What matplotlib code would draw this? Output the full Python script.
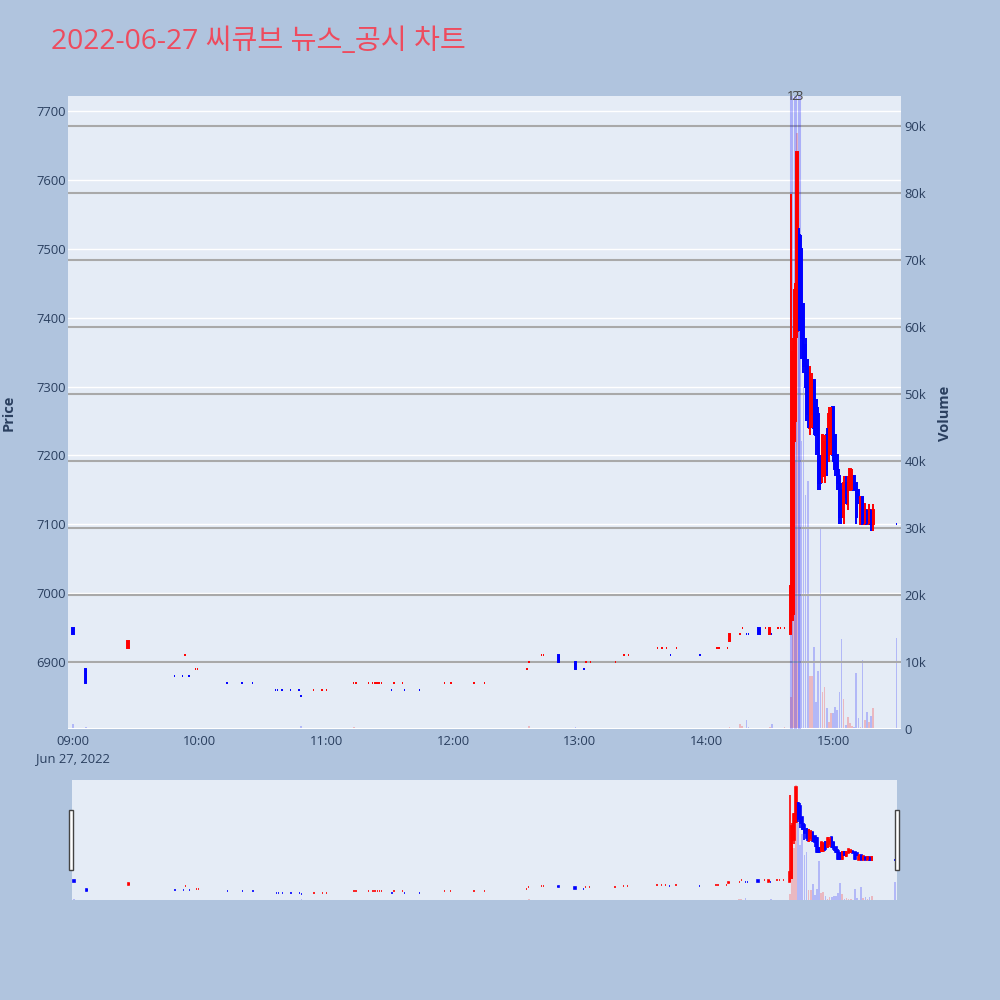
import numpy as np
import matplotlib
matplotlib.use('Agg')
import matplotlib.pyplot as plt
from matplotlib.patches import Rectangle

# 1-minute candles (HH:MM, open, high, low, close, volume)
times = ['09:00', '09:06', '09:26', '09:48', '09:52', '09:53', '09:55', '09:58', '09:59',
         '10:13', '10:20', '10:25', '10:36', '10:37', '10:39', '10:43', '10:47', '10:48',
         '10:54', '10:58', '11:00', '11:13', '11:14', '11:20', '11:22', '11:23', '11:24',
         '11:25', '11:26', '11:31', '11:32', '11:36', '11:37', '11:44', '11:56', '11:59',
         '12:10', '12:15', '12:35', '12:36', '12:42', '12:43', '12:50', '12:58', '13:02',
         '13:03', '13:05', '13:17', '13:21', '13:23', '13:37', '13:39', '13:41', '13:43',
         '13:46', '13:57', '14:05', '14:06', '14:10', '14:11', '14:16', '14:17', '14:19',
         '14:20', '14:25', '14:28', '14:30', '14:31', '14:34', '14:35', '14:37',
         '14:40', '14:41', '14:42', '14:43', '14:44', '14:45', '14:46', '14:47', '14:48',
         '14:49', '14:50', '14:51', '14:52', '14:53', '14:54', '14:55', '14:56', '14:57',
         '14:58', '14:59', '15:00', '15:01', '15:02', '15:03', '15:04', '15:05', '15:06',
         '15:07', '15:08', '15:09', '15:10', '15:11', '15:12', '15:13', '15:14', '15:15',
         '15:16', '15:17', '15:18', '15:19', '15:30']
opens = [6950, 6890, 6920, 6880, 6880, 6910, 6880, 6890, 6890,
         6870, 6870, 6870, 6860, 6860, 6860, 6860, 6860, 6850,
         6860, 6860, 6860, 6870, 6870, 6870, 6870, 6870, 6870,
         6870, 6870, 6860, 6870, 6870, 6860, 6860, 6870, 6870,
         6870, 6870, 6890, 6900, 6910, 6910, 6910, 6900, 6890,
         6900, 6900, 6900, 6910, 6910, 6920, 6920, 6920, 6910,
         6920, 6910, 6920, 6920, 6920, 6930, 6940, 6950, 6940,
         6940, 6950, 6950, 6940, 6940, 6950, 6950, 6950,
         6940, 6970, 7250, 7380, 7520, 7500, 7420, 7360, 7330,
         7240, 7260, 7310, 7280, 7260, 7190, 7170, 7170, 7230,
         7200, 7220, 7270, 7230, 7200, 7170, 7150, 7110, 7160,
         7130, 7150, 7160, 7170, 7160, 7150, 7100, 7140, 7100,
         7120, 7100, 7120, 7100, 7100]
highs = [6950, 6890, 6930, 6880, 6880, 6910, 6880, 6890, 6890,
         6870, 6870, 6870, 6860, 6860, 6860, 6860, 6860, 6850,
         6860, 6860, 6860, 6870, 6870, 6870, 6870, 6870, 6870,
         6870, 6870, 6860, 6870, 6870, 6860, 6860, 6870, 6870,
         6870, 6870, 6890, 6900, 6910, 6910, 6910, 6900, 6890,
         6900, 6900, 6900, 6910, 6910, 6920, 6920, 6920, 6910,
         6920, 6910, 6920, 6920, 6920, 6940, 6940, 6950, 6940,
         6940, 6950, 6950, 6950, 6940, 6950, 6950, 6950,
         7580, 7370, 7450, 7640, 7530, 7520, 7420, 7370, 7340,
         7330, 7320, 7310, 7280, 7270, 7200, 7230, 7230, 7240,
         7270, 7270, 7270, 7230, 7200, 7180, 7160, 7170, 7170,
         7170, 7180, 7180, 7170, 7160, 7150, 7140, 7140, 7130,
         7120, 7130, 7120, 7130, 7100]
lows = [6940, 6870, 6920, 6880, 6880, 6910, 6880, 6890, 6890,
        6870, 6870, 6870, 6860, 6860, 6860, 6860, 6860, 6850,
        6860, 6860, 6860, 6870, 6870, 6870, 6870, 6870, 6870,
        6870, 6870, 6860, 6870, 6870, 6860, 6860, 6870, 6870,
        6870, 6870, 6890, 6900, 6910, 6910, 6900, 6890, 6890,
        6900, 6900, 6900, 6910, 6910, 6920, 6920, 6920, 6910,
        6920, 6910, 6920, 6920, 6920, 6930, 6940, 6950, 6940,
        6940, 6940, 6950, 6940, 6940, 6950, 6950, 6950,
        6940, 6960, 7220, 7370, 7380, 7340, 7320, 7250, 7240,
        7230, 7240, 7230, 7200, 7150, 7150, 7160, 7160, 7170,
        7190, 7200, 7190, 7170, 7150, 7100, 7100, 7100, 7130,
        7120, 7150, 7150, 7150, 7100, 7130, 7100, 7100, 7100,
        7100, 7100, 7090, 7090, 7100]
closes = [6940, 6870, 6930, 6880, 6880, 6910, 6880, 6890, 6890,
          6870, 6870, 6870, 6860, 6860, 6860, 6860, 6860, 6850,
          6860, 6860, 6860, 6870, 6870, 6870, 6870, 6870, 6870,
          6870, 6870, 6860, 6870, 6870, 6860, 6860, 6870, 6870,
          6870, 6870, 6890, 6900, 6910, 6910, 6900, 6890, 6890,
          6900, 6900, 6900, 6910, 6910, 6920, 6920, 6920, 6910,
          6920, 6910, 6920, 6920, 6920, 6940, 6940, 6950, 6940,
          6940, 6940, 6950, 6950, 6940, 6950, 6950, 6950,
          7010, 7350, 7440, 7640, 7400, 7370, 7330, 7300, 7260,
          7320, 7310, 7240, 7230, 7160, 7160, 7230, 7220, 7180,
          7260, 7250, 7200, 7180, 7160, 7110, 7110, 7160, 7140,
          7160, 7180, 7170, 7150, 7110, 7140, 7140, 7100, 7130,
          7100, 7120, 7100, 7120, 7100]
volumes = [700, 300, 100, 150, 100, 150, 120, 100, 100,
           150, 100, 200, 150, 100, 150, 100, 200, 500,
           100, 100, 150, 300, 100, 150, 100, 150, 100,
           100, 150, 100, 150, 100, 100, 150, 100, 150,
           100, 100, 200, 400, 150, 100, 150, 300, 100,
           150, 100, 100, 150, 100, 150, 100, 150, 100,
           100, 150, 100, 150, 100, 300, 700, 500, 1300,
           300, 200, 150, 300, 700, 150, 200, 300,
           4800, 43000, 40000, 89000, 60000, 43000, 51000, 35000, 37000,
           7900, 7900, 12200, 4000, 8700, 30000, 5500, 6300, 3100,
           1000, 2400, 2400, 3300, 2900, 5500, 13400, 4500, 600,
           1800, 900, 500, 300, 8400, 1600, 300, 10300, 1400,
           2500, 1000, 2000, 3100, 13600]

news_times = ['14:40', '14:42', '14:44']
news_labels = ['1', '2', '3']

price_ticks = [6900, 7000, 7100, 7200, 7300, 7400, 7500, 7600, 7700]
volume_ticks = [0, 10000, 20000, 30000, 40000, 50000, 60000, 70000, 80000, 90000]
volume_tick_labels = ['0', '10k', '20k', '30k', '40k', '50k', '60k', '70k', '80k', '90k']
time_tick_labels = ['09:00', '10:00', '11:00', '12:00', '13:00', '14:00', '15:00']

title = '2022-06-27 씨큐브 뉴스_공시 차트'

RED = '#ff0000'
BLUE = '#0000ff'
PLOT_BG = '#e5ecf6'
FIG_BG = '#b0c4de'
TXT = '#2a3f5f'

plt.rcParams['font.family'] = ['Open Sans', 'Noto Sans CJK KR', 'DejaVu Sans']


def to_min(t):
    h, m = t.split(':')
    return (int(h) - 9) * 60 + int(m)


x = np.array([to_min(t) for t in times], dtype=float)
o = np.array(opens, dtype=float)
c = np.array(closes, dtype=float)
h = np.array(highs, dtype=float)
l = np.array(lows, dtype=float)
v = np.array(volumes, dtype=float)

# direction like plotly: flat candles follow previous close / previous direction
up = []
inc = True
prev_c = None
for oi, ci in zip(o, c):
    if ci != oi:
        inc = ci > oi
    elif prev_c is not None and ci != prev_c:
        inc = ci > prev_c
    up.append(inc)
    prev_c = ci
up = np.array(up)
cols = np.where(up, RED, BLUE)
vcols = [(1, 0, 0, 0.22) if u else (0, 0, 1, 0.22) for u in up]


def draw_candles(ax, lw, bw):
    ax.vlines(x, l, h, colors=cols, linewidth=lw)
    ax.bar(x, np.abs(c - o), bottom=np.minimum(o, c), width=bw,
           color=cols, edgecolor=cols, linewidth=lw)


def strip(ax):
    for s in ax.spines.values():
        s.set_visible(False)


fig = plt.figure(figsize=(10, 10), dpi=100, facecolor=FIG_BG)

# main chart
ax = fig.add_axes([0.068, 0.271, 0.833, 0.633])
ax.set_facecolor(PLOT_BG)
ax.set_zorder(1)
ax.set_xlim(-2.37, 392.2)
ax.set_ylim(6802.7, 7721.8)
ax.set_yticks(price_ticks)
ax.set_yticklabels([str(p) for p in price_ticks])
ax.set_xticks([i * 60 for i in range(len(time_tick_labels))])
ax.set_xticklabels([time_tick_labels[0] + '\nJun 27, 2022'] + time_tick_labels[1:],
                   linespacing=1.35)
ax.grid(axis='y', color='white', linewidth=1.0)
ax.tick_params(axis='y', length=0, labelsize=9.4, labelcolor=TXT, pad=1.5)
ax.tick_params(axis='x', length=0, labelsize=9.4, labelcolor=TXT, pad=4.5)
strip(ax)

ax2 = ax.twinx()
ax2.set_zorder(2)
ax2.patch.set_visible(False)
ax2.set_ylim(0, 94480)
ax2.set_yticks(volume_ticks)
ax2.set_yticklabels(volume_tick_labels)
ax2.tick_params(axis='y', length=0, labelsize=9.4, labelcolor=TXT, pad=2.5)
ax2.grid(axis='y', color='#a9a9a9', linewidth=1.5)
ax2.get_ygridlines()[0].set_visible(False)
ax2.axhline(0, color='white', linewidth=1.5)
for nt in news_times:
    ax2.axvline(to_min(nt), color=(0, 0, 1, 0.25), linewidth=2.2)
ax2.bar(x, v, width=0.8, color=vcols, linewidth=0)
strip(ax2)

ax3 = ax.twinx()
ax3.set_zorder(3)
ax3.patch.set_visible(False)
ax3.set_ylim(ax.get_ylim())
ax3.set_yticks([])
strip(ax3)
draw_candles(ax3, 1.4, 0.6)
for nt, lab in zip(news_times, news_labels):
    ax3.text(to_min(nt), 1.0, lab, transform=ax3.get_xaxis_transform(),
             ha='center', va='center', fontsize=9.4, color='#444444', clip_on=False)

# range slider
axs = fig.add_axes([0.072, 0.100, 0.825, 0.120])
axs.set_facecolor(PLOT_BG)
axs.set_xlim(-1, 391)
axs.set_ylim(6806, 7690)
axs.set_xticks([])
axs.set_yticks([])
strip(axs)
draw_candles(axs, 1.2, 0.6)
axs2 = axs.twinx()
axs2.set_ylim(0, 93000)
axs2.set_yticks([])
axs2.bar(x, v, width=0.8, color=vcols, linewidth=0)
strip(axs2)

for hx in (0.069, 0.895):
    fig.patches.append(Rectangle((hx, 0.130), 0.004, 0.060, transform=fig.transFigure,
                                 facecolor='white', edgecolor='#444444', linewidth=1.0))

fig.text(0.051, 0.958, title, fontsize=20.3, color='#ee4b5e', ha='left', va='center')
fig.text(0.009, 0.587, 'Price', rotation=90, fontsize=10.5, fontweight='bold',
         color=TXT, ha='center', va='center')
fig.text(0.945, 0.587, 'Volume', rotation=90, fontsize=10.5, fontweight='bold',
         color=TXT, ha='center', va='center')

fig.savefig('out.png', dpi=100, facecolor=FIG_BG)
